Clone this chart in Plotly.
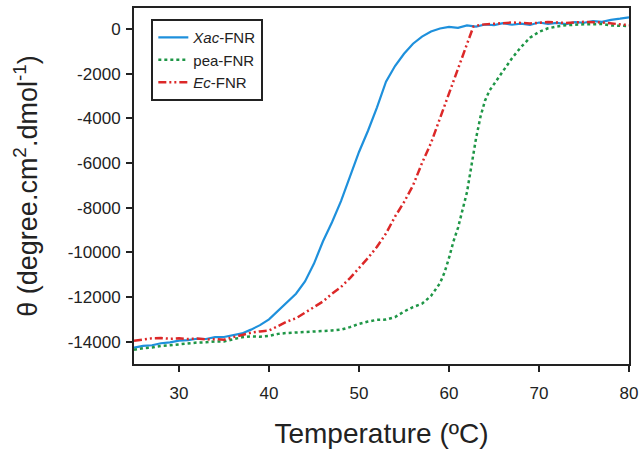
import plotly.graph_objects as go

# --- data ---
xac_T = [25, 26, 27, 28, 29, 30, 31, 32, 33, 34, 35, 36, 37, 38, 39, 40, 41, 42, 43, 44,
         45, 46, 47, 48, 49, 50, 51, 52, 53, 54, 55, 56, 57, 58, 59, 60, 61, 62, 63, 64,
         65, 66, 67, 68, 69, 70, 71, 72, 73, 74, 75, 76, 77, 78, 79, 80]
xac_v = [-14270, -14190, -14160, -14070, -14030, -13950, -13930, -13870, -13880, -13800,
         -13790, -13700, -13630, -13460, -13260, -13000, -12620, -12250, -11850, -11300,
         -10500, -9500, -8650, -7700, -6550, -5500, -4550, -3500, -2350, -1650, -1100,
         -650, -330, -100, 30, 100, 60, 170, 120, 210, 180, 270, 200, 250, 190, 300, 240,
         280, 230, 320, 290, 360, 330, 420, 470, 530]

pea_T = [25, 26, 27, 28, 29, 30, 31, 32, 33, 34, 35, 36, 37, 38, 39, 40, 41, 42, 43, 44,
         45, 46, 47, 48, 49, 50, 51, 52, 53, 54, 55, 56, 57, 58, 59, 59.5, 60, 60.5, 61,
         61.5, 62, 62.5, 63, 63.5, 64, 64.5, 65, 66, 67, 68, 69, 70, 71, 72, 73, 75, 77,
         78, 80]
pea_v = [-14360, -14290, -14260, -14190, -14160, -14110, -14090, -14040, -14030, -13990,
         -13990, -13900, -13800, -13760, -13780, -13740, -13650, -13610, -13580, -13560,
         -13540, -13520, -13500, -13460, -13350, -13200, -13100, -13020, -13010, -12900,
         -12650, -12450, -12300, -11950, -11380, -10900, -10250, -9500, -8900, -8100,
         -7300, -6100, -4900, -3920, -3200, -2750, -2450, -1900, -1300, -800, -380, -120,
         40, 120, 180, 220, 230, 170, 140]

ec_T = [25, 26, 27, 28, 29, 30, 31, 32, 33, 34, 35, 36, 37, 38, 39, 40, 41, 42, 43, 44,
        45, 46, 47, 48, 49, 50, 51, 52, 53, 54, 55, 56, 57, 58, 59, 60, 61, 62, 62.7,
        63.5, 65, 67, 69, 71, 73, 75, 77, 79, 80]
ec_v = [-13960, -13900, -13850, -13840, -13870, -13850, -13880, -13860, -13900, -13890,
        -13910, -13800, -13700, -13600, -13540, -13500, -13300, -13100, -12950, -12700,
        -12450, -12200, -11850, -11550, -11150, -10700, -10250, -9750, -9150, -8400,
        -7750, -7000, -6000, -5100, -4000, -2900, -1750, -650, 110, 200, 250, 300, 260,
        320, 280, 330, 300, 200, 180]

x_ticks = [30, 40, 50, 60, 70, 80]
y_ticks = [0, -2000, -4000, -6000, -8000, -10000, -12000, -14000]
y_tick_labels = ["0", "-2000", "-4000", "-6000", "-8000", "-10000", "-12000", "-14000"]

font_family = "Liberation Sans, Arial, sans-serif"

fig = go.Figure()
fig.add_trace(go.Scatter(x=xac_T, y=xac_v, mode="lines", name="<i>Xac</i>-FNR",
                         line=dict(color="rgb(30,144,220)", width=2.2)))
fig.add_trace(go.Scatter(x=pea_T, y=pea_v, mode="lines", name="pea-FNR",
                         line=dict(color="rgb(30,150,70)", width=2.5, dash="dot")))
fig.add_trace(go.Scatter(x=ec_T, y=ec_v, mode="lines", name="<i>Ec</i>-FNR",
                         line=dict(color="rgb(220,40,40)", width=2.5,
                                   dash="8px,3px,2px,3px,2px,3px")))

fig.update_layout(
    width=642, height=450,
    margin=dict(l=134, r=13, t=8, b=86),
    paper_bgcolor="white", plot_bgcolor="white",
    font=dict(family=font_family, color="#222"),
    showlegend=True,
    legend=dict(x=0.035, y=0.969, xanchor="left", yanchor="top",
                bordercolor="#222", borderwidth=2, bgcolor="white",
                font=dict(size=15, family=font_family, color="#222"),
                tracegroupgap=0, itemwidth=30),
    xaxis=dict(range=[25, 80], tickvals=x_ticks, ticks="outside", ticklen=6,
               tickwidth=1.5, tickcolor="#222", showline=True, linecolor="#222",
               linewidth=2, mirror=True, showgrid=False, zeroline=False,
               automargin=False, ticklabelstandoff=7,
               tickfont=dict(size=17, family=font_family, color="#222"),
               title=dict(text="Temperature (ºC)", standoff=21,
                          font=dict(size=28, family=font_family, color="#222"))),
    yaxis=dict(range=[-15000, 950], tickvals=y_ticks, ticktext=y_tick_labels,
               ticks="outside", ticklen=6,
               tickwidth=1.5, tickcolor="#222", showline=True, linecolor="#222",
               linewidth=2, mirror=True, showgrid=False, zeroline=False,
               automargin=False, ticklabelstandoff=2,
               tickfont=dict(size=17, family=font_family, color="#222"),
               title=dict(text="θ (degree.cm<sup>2</sup>.dmol<sup>-1</sup>)", standoff=22,
                          font=dict(size=27, family=font_family, color="#222"))),
)

fig.write_html("out.html", config={"displayModeBar": False},
               post_script="document.body.style.margin='0px';")
